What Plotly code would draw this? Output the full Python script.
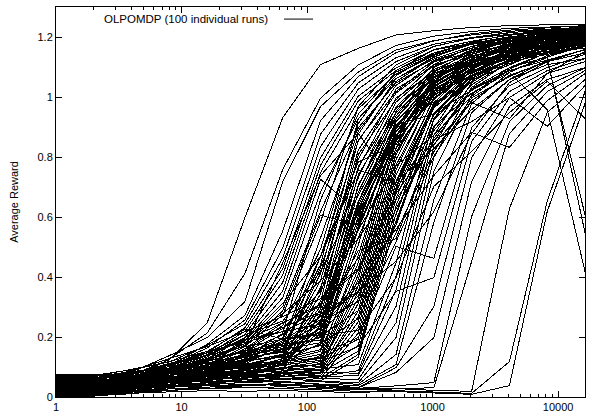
import numpy as np
import plotly.graph_objects as go

# x positions (training steps, powers of two)
steps = [1, 2, 4, 8, 16, 32, 64, 128, 256, 512, 1024, 2048, 4096, 8192, 16384]

early_runs = [
    [.051,.051,.073,.124,.247,.598,.931,1.108,1.162,1.207,1.221,1.232,1.238,1.241,1.243],
    [.032,.032,.058,.127,.213,.412,.758,.996,1.107,1.172,1.203,1.218,1.229,1.234,1.237],
    [.064,.064,.083,.138,.198,.318,.717,.968,1.083,1.157,1.188,1.207,1.219,1.227,1.233],
    [.022,.022,.047,.103,.176,.272,.553,.921,1.068,1.148,1.187,1.211,1.223,1.231,1.238],
    [.041,.041,.068,.108,.163,.257,.497,.876,1.047,1.131,1.176,1.198,1.215,1.222,1.229],
    [.072,.072,.091,.117,.172,.244,.463,.834,1.026,1.118,1.169,1.196,1.209,1.219,1.226],
    [.012,.012,.038,.093,.148,.231,.428,.797,1.003,1.097,1.158,1.186,1.206,1.216,1.224],
    [.053,.053,.062,.097,.141,.219,.406,.772,.987,1.089,1.147,1.178,1.197,1.211,1.219],
    [.033,.033,.052,.081,.134,.208,.382,.748,.961,1.076,1.139,1.176,1.194,1.207,1.214],
    [.061,.061,.077,.106,.139,.197,.353,.726,.617,.953,1.098,1.158,1.187,1.201,1.212],
    [.024,.024,.034,.072,.117,.188,.331,.683,.928,1.062,1.127,1.168,1.189,1.204,1.217],
    [.044,.044,.057,.088,.127,.178,.302,.618,.897,1.047,1.118,1.163,1.186,1.199,1.209],
    [.052,.052,.071,.097,.123,.171,.447,.738,.879,.702,.981,1.098,1.156,1.186,1.201],
]

main_runs = [
    [.030,.030,.057,.086,.104,.168,.273,.583,.968,1.107,1.168,1.197,1.214,1.226,1.232],
    [.015,.015,.041,.053,.107,.134,.212,.657,.943,1.083,1.142,1.183,1.208,1.221,1.236],
    [.045,.045,.052,.096,.118,.157,.238,.492,.912,1.088,1.157,1.179,1.201,1.213,1.224],
    [.062,.062,.079,.084,.113,.141,.173,.528,.887,1.052,1.132,1.184,1.207,1.225,1.228],
    [.022,.022,.036,.077,.093,.147,.193,.441,.927,1.071,1.147,1.181,1.196,1.217,1.231],
    [.035,.035,.048,.063,.097,.114,.198,.468,.853,1.039,1.122,1.162,1.193,1.203,1.215],
    [.052,.052,.067,.088,.092,.127,.153,.412,.876,1.061,1.134,1.176,1.187,1.209,1.227],
    [.005,.005,.023,.058,.072,.118,.162,.388,.823,1.013,1.108,1.169,1.198,1.214,1.219],
    [.041,.041,.058,.071,.098,.103,.142,.431,.792,1.027,1.102,1.153,1.186,1.206,1.221],
    [.027,.027,.032,.061,.083,.109,.178,.357,.857,1.018,1.117,1.149,1.174,1.203,1.229],
    [.033,.033,.061,.064,.087,.122,.133,.343,.763,.997,1.083,1.157,1.183,1.194,1.211],
    [.071,.071,.076,.097,.102,.118,.141,.318,.808,.991,1.107,1.143,1.178,1.204,1.207],
    [.012,.012,.029,.042,.068,.081,.118,.366,.731,.983,1.091,1.148,1.171,1.196,1.218],
    [.044,.044,.051,.068,.074,.107,.113,.292,.768,.962,1.073,1.132,1.183,1.198,1.212],
    [.024,.024,.049,.053,.078,.092,.128,.303,.702,.968,1.084,1.138,1.163,1.182,1.206],
    [.055,.055,.063,.079,.083,.098,.104,.271,.741,.948,1.063,1.127,1.168,1.192,1.203],
    [.031,.031,.043,.057,.063,.096,.121,.253,.683,.937,1.088,1.122,1.158,1.187,1.216],
    [.008,.008,.028,.043,.077,.073,.094,.278,.652,.918,1.052,1.137,1.153,1.178,1.198],
    [.064,.064,.072,.087,.091,.112,.119,.232,.708,.928,1.067,1.113,1.167,1.188,1.208],
    [.019,.019,.024,.048,.054,.071,.107,.238,.623,.902,1.043,1.118,1.147,1.172,1.193],
    [.048,.048,.053,.062,.081,.088,.093,.213,.638,.893,1.058,1.127,1.162,1.186,1.204],
    [.036,.036,.044,.052,.069,.074,.112,.221,.582,.907,1.034,1.102,1.143,1.179,1.211],
    [.050,.050,.068,.092,.121,.172,.287,.606,.573,.918,1.047,1.116,1.144,1.187,1.199],
    [.018,.018,.048,.069,.103,.186,.312,.468,.783,.842,1.028,1.093,1.157,1.173,1.191],
    [.058,.058,.081,.108,.147,.207,.253,.418,.672,.908,.943,1.071,1.148,1.176,1.184],
    [.029,.029,.042,.078,.126,.153,.228,.352,.613,.872,1.038,1.106,1.138,1.163,1.207],
    [.011,.011,.036,.059,.094,.161,.247,.308,.592,.887,1.012,1.083,1.151,1.177,1.188],
    [.039,.039,.069,.091,.138,.192,.218,.243,.648,.901,1.049,1.118,1.134,1.168,1.218],
    [.051,.051,.063,.107,.152,.226,.193,.212,.707,.947,1.068,1.126,1.167,1.183,1.209],
    [.021,.021,.046,.062,.083,.137,.168,.198,.627,.883,1.021,1.108,1.146,1.171,1.197],
    [.068,.068,.084,.101,.128,.148,.177,.189,.603,.868,1.027,1.082,1.133,1.178,1.186],
    [.032,.032,.051,.079,.098,.124,.158,.181,.561,.853,1.003,1.097,1.139,1.152,1.182],
    [.043,.043,.056,.073,.088,.103,.137,.172,.532,.828,1.008,1.072,1.124,1.166,1.193],
    [.017,.017,.031,.057,.073,.087,.128,.158,.568,.862,.992,1.088,1.128,1.158,1.174],
    [.054,.054,.066,.082,.108,.132,.149,.468,.757,.713,.978,1.068,1.121,1.172,1.196],
]

mid_runs = [
    [.034,.034,.052,.078,.094,.118,.142,.171,.507,.928,1.082,1.157,1.183,1.208,1.227],
    [.009,.009,.026,.041,.068,.083,.092,.138,.472,.883,1.063,1.148,1.187,1.202,1.219],
    [.046,.046,.058,.062,.087,.107,.121,.152,.448,.897,1.078,1.133,1.172,1.206,1.213],
    [.059,.059,.071,.086,.083,.098,.118,.131,.427,.871,1.052,1.142,1.178,1.193,1.222],
    [.023,.023,.032,.053,.071,.073,.107,.122,.408,.852,1.058,1.121,1.163,1.197,1.204],
    [.028,.028,.043,.052,.062,.087,.083,.113,.392,.858,1.041,1.128,1.169,1.184,1.211],
    [.049,.049,.061,.077,.073,.092,.108,.102,.371,.832,1.048,1.112,1.152,1.188,1.198],
    [.003,.003,.016,.032,.048,.061,.088,.098,.352,.808,1.032,1.118,1.168,1.179,1.212],
    [.042,.042,.049,.068,.063,.079,.097,.108,.328,.817,1.021,1.103,1.158,1.187,1.194],
    [.016,.016,.036,.041,.058,.068,.072,.091,.312,.792,1.037,1.108,1.143,1.176,1.203],
    [.037,.037,.042,.052,.067,.062,.081,.083,.287,.773,1.012,1.097,1.148,1.168,1.187],
    [.066,.066,.069,.073,.088,.082,.098,.088,.268,.758,1.018,1.091,1.157,1.181,1.207],
    [.013,.013,.021,.038,.043,.058,.068,.078,.251,.741,.993,1.098,1.132,1.168,1.182],
    [.038,.038,.053,.061,.069,.087,.082,.071,.232,.718,.998,1.083,1.138,1.162,1.191],
    [.026,.026,.031,.048,.058,.063,.087,.062,.213,.697,.972,1.087,1.128,1.172,1.186],
    [.057,.057,.064,.072,.087,.101,.112,.128,.193,.683,.963,1.072,1.118,1.157,1.178],
    [.030,.030,.039,.058,.061,.077,.073,.092,.172,.662,.968,1.078,1.137,1.148,1.172],
    [.007,.007,.018,.031,.049,.052,.068,.081,.153,.638,.941,1.062,1.121,1.158,1.189],
    [.045,.045,.052,.067,.071,.088,.097,.062,.142,.612,.947,1.068,1.112,1.151,1.177],
    [.020,.020,.034,.042,.057,.063,.071,.053,.132,.588,.923,1.053,1.127,1.146,1.168],
    [.063,.063,.072,.088,.107,.122,.158,.218,.337,.573,.928,1.058,1.107,1.161,1.182],
    [.033,.033,.052,.087,.121,.178,.232,.283,.463,.692,.888,1.041,1.118,1.142,1.168],
    [.048,.048,.068,.102,.147,.188,.247,.302,.557,.772,.873,1.002,1.093,1.148,1.163],
    [.025,.025,.041,.068,.108,.143,.182,.258,.488,.528,.862,1.028,1.098,1.133,1.172],
    [.040,.040,.059,.082,.118,.152,.208,.312,.423,.658,.843,.982,.928,1.078,1.152],
    [.074,.074,.078,.092,.112,.138,.162,.228,.372,.628,.852,1.027,1.088,1.123,1.158],
    [.010,.010,.028,.052,.088,.121,.188,.268,.348,.607,.947,1.022,1.087,1.131,.548],
    [.034,.034,.048,.071,.098,.132,.168,.248,.318,.583,.902,1.013,1.082,.958,.418],
    [.050,.050,.058,.078,.093,.108,.138,.203,.288,.548,.818,.997,1.068,1.121,.608],
    [.018,.018,.033,.048,.072,.091,.118,.178,.262,.518,.803,.988,1.072,1.118,1.158],
]

late_runs = [
    [.032,.032,.041,.052,.058,.072,.078,.092,.108,.448,.928,1.098,1.158,1.188,1.206],
    [.011,.011,.019,.032,.041,.049,.061,.068,.088,.402,.897,1.082,1.148,1.186,1.201],
    [.043,.043,.048,.058,.062,.068,.077,.083,.079,.358,.872,1.068,1.138,1.177,1.196],
    [.021,.021,.029,.038,.047,.053,.058,.067,.072,.302,.838,1.048,1.127,1.168,1.188],
    [.054,.054,.059,.063,.068,.072,.069,.062,.058,.248,.798,1.032,1.118,1.158,1.182],
    [.004,.004,.011,.022,.028,.038,.047,.052,.048,.198,.752,1.008,1.098,1.148,1.172],
    [.029,.029,.038,.047,.052,.057,.063,.051,.042,.142,.658,.978,1.082,1.138,1.168],
    [.017,.017,.027,.036,.043,.048,.052,.043,.038,.108,.582,.948,1.058,1.122,1.157],
    [.061,.061,.072,.083,.092,.102,.118,.142,.198,.502,.462,.898,1.038,1.098,1.142],
    [.039,.039,.048,.058,.068,.081,.097,.118,.168,.352,.398,.852,1.018,1.088,1.128],
    [.009,.009,.018,.027,.033,.038,.042,.038,.032,.098,.302,.798,.998,1.078,1.118],
    [.027,.027,.037,.042,.048,.053,.049,.042,.031,.082,.198,.718,.968,1.058,1.098],
]

very_late_runs = [
    [.019,.019,.028,.033,.038,.042,.039,.033,.029,.037,.048,.602,.918,1.038,1.097],
    [.013,.013,.017,.023,.028,.031,.034,.028,.024,.027,.031,.452,.878,1.018,1.088],
    [.028,.028,.032,.037,.041,.038,.042,.032,.027,.028,.022,.019,.628,.948,1.058],
    [.016,.016,.021,.027,.029,.033,.028,.023,.019,.021,.017,.012,.118,.652,1.018],
    [.007,.007,.013,.018,.021,.019,.022,.017,.016,.018,.014,.009,.038,.618,.978],
]

irregular_runs = [
    [.069,.069,.092,.118,.152,.182,.218,.278,.352,.452,.618,.878,1.048,1.118,1.147],
    [.047,.047,.078,.112,.138,.168,.192,.207,.222,.398,.702,.818,.948,1.052,.928],
    [.038,.038,.062,.093,.118,.153,.181,.238,.382,.562,.738,.882,.832,.988,1.078],
    [.058,.058,.088,.128,.168,.218,.268,.328,.428,.678,.858,.918,.998,.902,1.038],
    [.021,.021,.048,.083,.128,.198,.278,.388,.528,.718,.828,.958,1.058,1.108,1.128],
]

x_tick_vals = [1, 10, 100, 1000, 10000]
x_tick_text = ["1", "10", "100", "1000", "10000"]
y_tick_vals = [0, 0.2, 0.4, 0.6, 0.8, 1.0, 1.2]
y_tick_text = ["0", "0.2", "0.4", "0.6", "0.8", "1", "1.2"]
legend_label = "OLPOMDP (100 individual runs)"

all_runs = early_runs + main_runs + mid_runs + late_runs + very_late_runs + irregular_runs

fig = go.Figure()
for run in all_runs:
    fig.add_trace(go.Scatter(x=steps, y=run, mode="lines",
                             line=dict(color="black", width=1),
                             showlegend=False, hoverinfo="skip"))

minor_vals = [m * 10 ** d for d in range(5) for m in range(2, 10) if m * 10 ** d <= 16384]

fig.update_layout(
    width=592, height=419,
    margin=dict(l=56, r=7, t=6, b=21),
    plot_bgcolor="white", paper_bgcolor="white",
    font=dict(family="Liberation Sans, Arial, sans-serif", size=11, color="black"),
    showlegend=False,
)
fig.update_xaxes(
    type="log", range=[0, np.log10(16384)],
    tickvals=x_tick_vals, ticktext=x_tick_text,
    ticks="inside", ticklen=6, tickwidth=1, tickcolor="black",
    showline=True, linecolor="black", linewidth=1, mirror="ticks",
    showgrid=False, zeroline=False,
    minor=dict(tickvals=minor_vals, ticks="inside", ticklen=3,
               tickcolor="black", tickwidth=1, showgrid=False),
)
fig.update_yaxes(
    range=[0, 1.3],
    tickvals=y_tick_vals, ticktext=y_tick_text,
    ticks="inside", ticklen=6, tickwidth=1, tickcolor="black",
    showline=True, linecolor="black", linewidth=1, mirror="ticks",
    showgrid=False, zeroline=False,
    title=dict(text="Average Reward", font=dict(size=11), standoff=16),
)
fig.add_annotation(xref="paper", yref="paper", x=0.4045, y=0.969,
                   xanchor="right", yanchor="middle", showarrow=False,
                   text=legend_label, font=dict(size=11.5))
fig.add_shape(type="line", xref="paper", yref="paper",
              x0=0.431, x1=0.486, y0=0.969, y1=0.969,
              line=dict(color="black", width=1))

# render the run lines without anti-aliasing, like the original bitmap output
crisp_js = """
var gd = document.getElementsByClassName('plotly-graph-div')[0];
function crisp() {
  gd.querySelectorAll('.scatterlayer path.js-line').forEach(function (p) {
    p.style.shapeRendering = 'crispEdges';
  });
}
crisp();
gd.on('plotly_afterplot', crisp);
"""

fig.write_html("out.html", post_script=crisp_js)
